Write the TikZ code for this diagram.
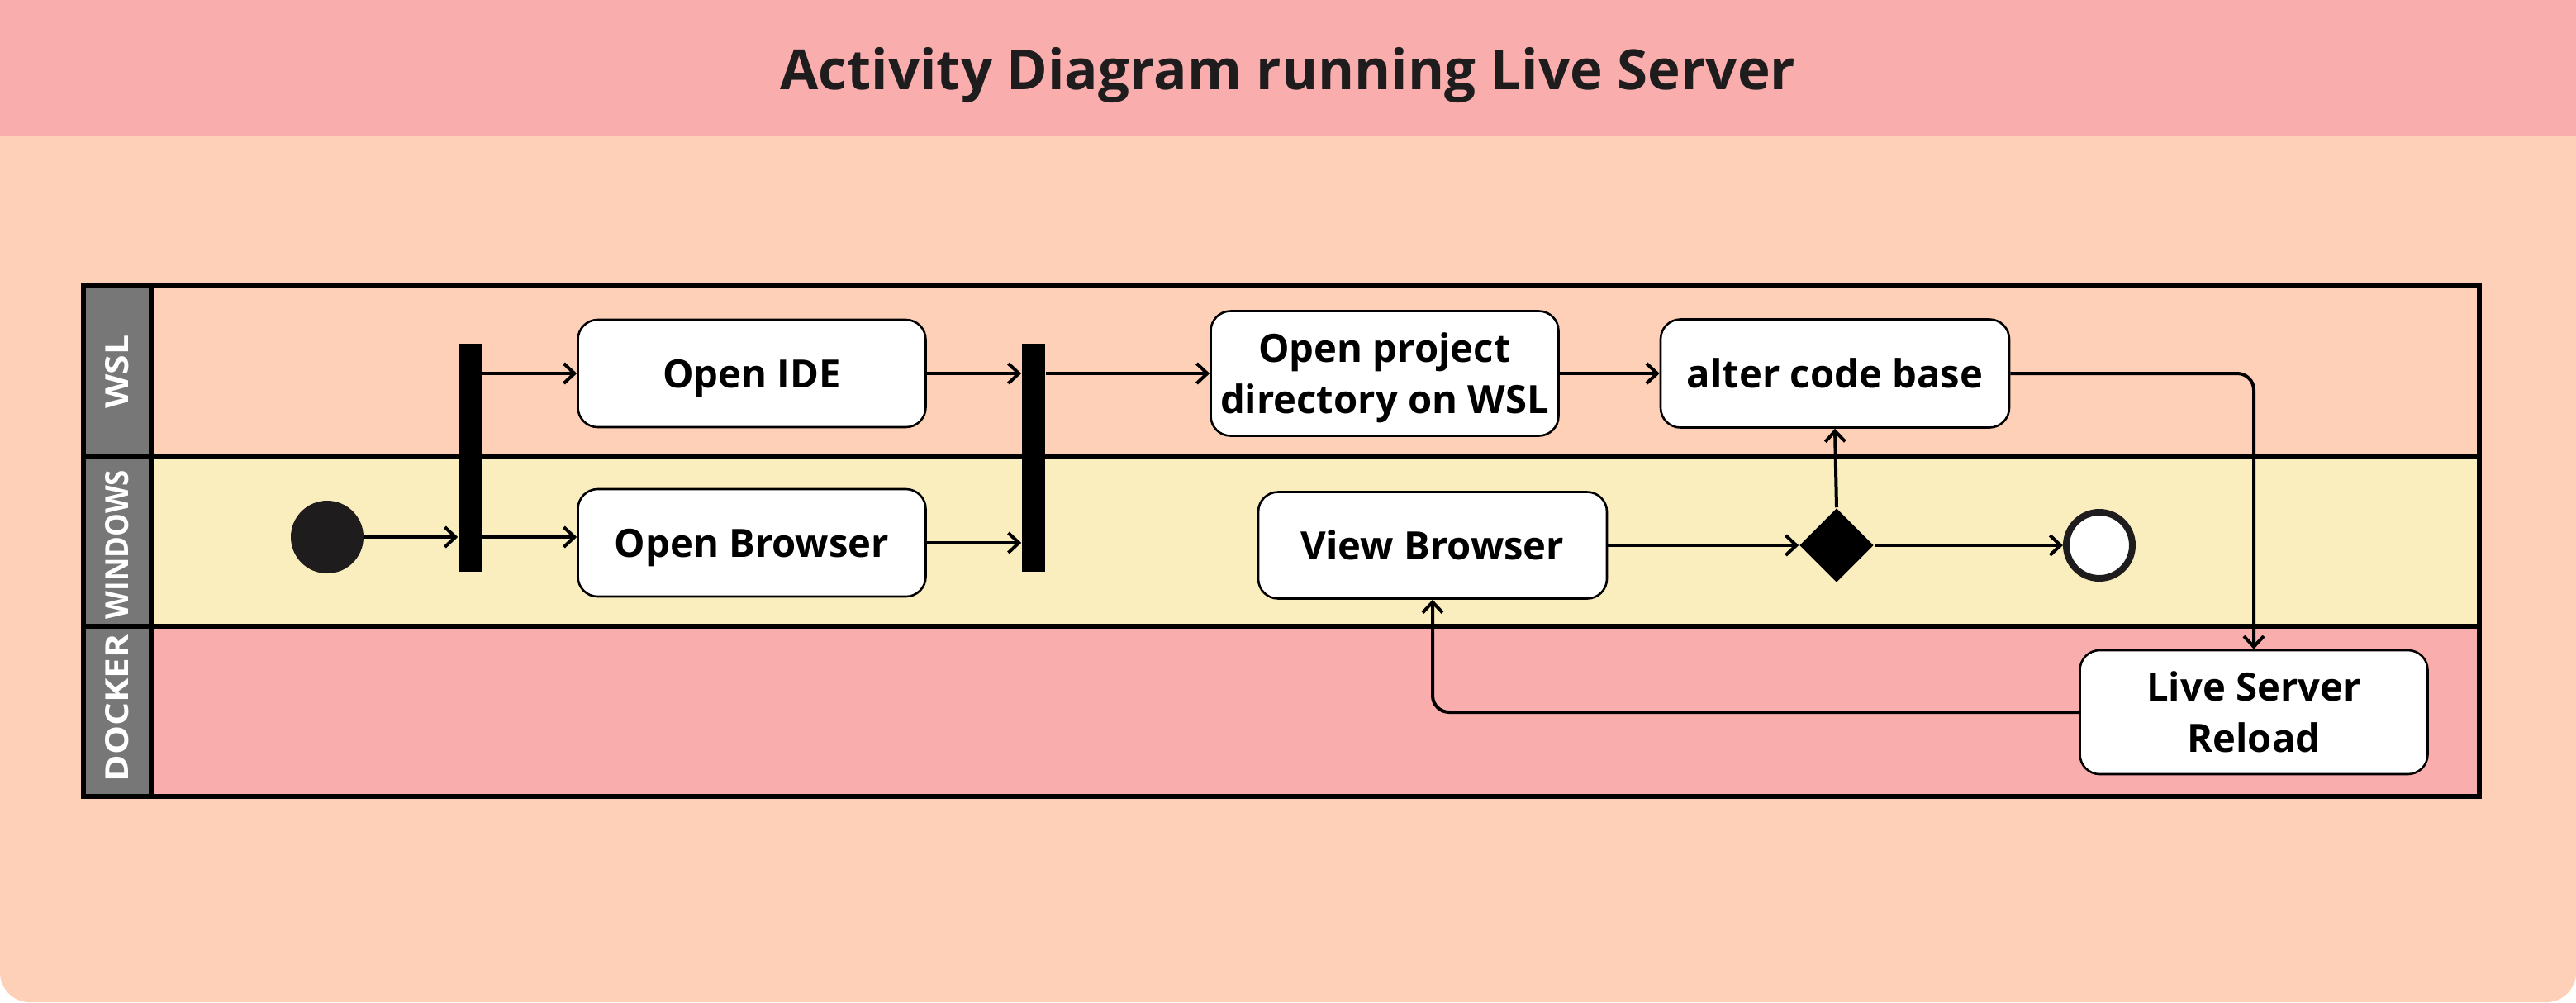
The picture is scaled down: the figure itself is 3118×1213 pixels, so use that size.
\documentclass[tikz,border=0pt]{standalone}
\usepackage{graphicx}
\usepackage{fontspec}
\setmainfont{Open Sans}
\usetikzlibrary{arrows.meta,shapes.geometric}
\definecolor{bgpeach}{HTML}{FFD0B8}
\definecolor{bandpink}{HTML}{F9ADAD}
\definecolor{winyellow}{HTML}{FAEDBE}
\definecolor{headgray}{HTML}{777777}
\definecolor{inkblack}{HTML}{1E1C1D}
\newcommand{\lanetext}[2]{\resizebox{#1}{7pt}{\bfseries #2}}
\tikzset{
  actbase/.style 2 args={draw=black, line width=0.65pt, fill=white, rounded corners=6pt,
    minimum width=#1*0.25pt, minimum height=#2*0.25pt, inner sep=0pt, align=center,
    font=\fontsize{11.8}{15.5}\selectfont\bfseries},
  act/.style 2 args={actbase={#1}{#2}, text height=8.7pt, text depth=0.1pt},
  acttwo/.style 2 args={actbase={#1}{#2}, text depth=0.1pt},
  bar/.style={fill=black, draw=none, minimum width=7pt, minimum height=69pt, inner sep=0pt},
  flow/.style={line width=1pt, -{Straight Barb[length=3.2pt,width=6pt,line width=1pt]}},
  lanebox/.style={draw=black, line width=1.4pt},
  lanelabel/.style={rotate=90, text=white, inner sep=0pt}
}
\begin{document}
\begin{tikzpicture}[x=0.25pt, y=-0.25pt]
\useasboundingbox (0,0) rectangle (3118,1213);
% background
\fill[white] (0,0) rectangle (3118,1213);
\fill[bgpeach, rounded corners=9pt] (0,0) rectangle (3118,1213);
\fill[bgpeach] (0,0) rectangle (3118,600);
\fill[bandpink] (0,0) rectangle (3118,165);
\node[text=inkblack, inner sep=0pt, text height=12.2pt, text depth=0pt, font=\fontsize{16.8}{20}\selectfont\bfseries] (title) at (1559,84) {Activity Diagram running Live Server};
% lanes
\fill[bgpeach] (183,346) rectangle (3001,553);
\fill[winyellow] (183,553) rectangle (3001,758);
\fill[bandpink] (183,758) rectangle (3001,964);
\fill[headgray] (101,346) rectangle (183,964);
\draw[lanebox] (101,346) rectangle (3001,964);
\draw[lanebox] (101,553) -- (3001,553);
\draw[lanebox] (101,758) -- (3001,758);
\draw[lanebox] (183,346) -- (183,964);
\node[lanelabel] (lwsl) at (142,450) {\lanetext{22.25pt}{WSL}};
\node[lanelabel] (lwin) at (142,659) {\lanetext{45pt}{WINDOWS}};
\node[lanelabel] (ldock) at (142,857) {\lanetext{44.75pt}{DOCKER}};
% nodes
\node[circle, fill=inkblack, minimum size=22pt, inner sep=0pt] (init) at (396,650) {};
\node[bar] (fork) at (569,554) {};
\node[bar] (join) at (1251,554) {};
\node[act={421}{130}] (ide) at (910,452) {Open IDE};
\node[act={421}{130}] (browser) at (910,657) {Open Browser};
\node[acttwo={421}{151}] (proj) at (1676,452) {Open project\\directory on WSL};
\node[act={422}{131}] (alter) at (2221,452) {alter code base};
\node[act={422}{129}] (view) at (1734,660) {View Browser};
\node[diamond, aspect=1, fill=black, minimum width=22.5pt, minimum height=22.5pt, inner sep=0pt] (dec) at (2223,660) {};
\node[circle, draw=inkblack, line width=2pt, fill=white, minimum size=20pt, inner sep=0pt] (final) at (2541,660) {};
\node[acttwo={421}{150}] (live) at (2728,862) {Live Server\\Reload};
% connectors
\draw[flow] (init) -- (init -| fork.west);
\draw[flow] (fork.east |- ide.west) -- (ide.west);
\draw[flow] (fork.east |- init) -- (browser.west |- init);
\draw[flow] (ide.east) -- (ide.east -| join.west);
\draw[flow] (browser.east) -- (browser.east -| join.west);
\draw[flow] (join.east |- proj.west) -- (proj.west);
\draw[flow] (proj.east) -- (alter.west);
\draw[flow, rounded corners=5pt] (alter.east) -| (live.north);
\draw[flow, rounded corners=5pt] (live.west) -| (view.south);
\draw[flow] (view.east) -- (dec.west);
\draw[flow] (dec.north) -- (alter.south);
\draw[flow] (dec.east) -- (final.west);
\end{tikzpicture}
\end{document}
